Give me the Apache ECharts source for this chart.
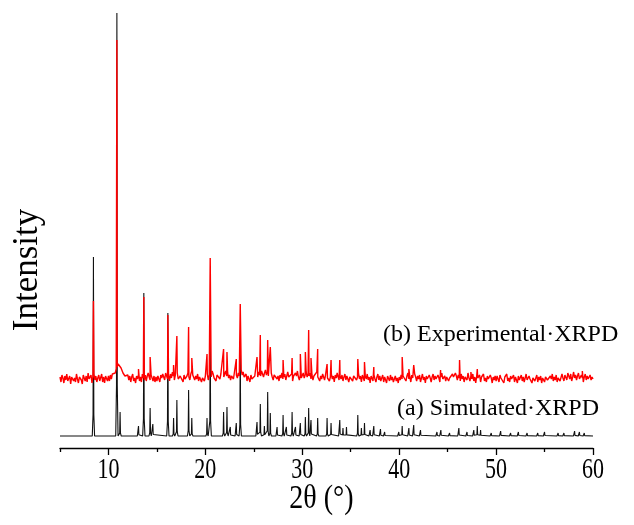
<!DOCTYPE html>
<html><head><meta charset="utf-8">
<script src="https://cdn.jsdelivr.net/npm/echarts@6/dist/echarts.min.js"></script>
<style>html,body{margin:0;padding:0;background:#fff}#c{width:634px;height:525px}</style>
</head><body><div id="c"></div>
<script>
// ---- data ----
// Simulated pattern: peak positions (2θ, °) and heights (a.u.)
const simPeakPos = [8.45,10.87,11.2,13.1,13.65,14.3,14.58,16.13,16.72,17.06,18.27,18.6,20.17,20.5,21.88,22.23,22.57,23.19,23.6,
  25.33,25.67,26.09,26.43,26.7,27.4,28.02,28.36,28.95,29.3,29.8,30.32,30.66,30.9,31.59,32.56,32.97,33.87,34.2,34.56,
  35.73,36.1,36.42,37.0,37.38,38.07,38.5,39.96,40.31,41.0,41.5,42.2,43.9,44.3,45.2,46.16,47.0,47.7,48.06,48.4,49.5,
  50.47,51.5,52.3,53.2,54.3,55.0,56.4,57.0,58.1,58.6,59.1];
const simPeakInt = [179,423,24,10,143,28,12,123,18,36,46,18,18,125,24,29,9,13,95,
  14,32,10,44,23,9,21,9,24,9,13,19,28,16,18,18,13,16,8,9,
  21,8,13,6,10,7,4,4,10,8,11,6,4,6,3,8,4,6,10,6,3,
  5,3,4,3,3,4,3,3,5,4,3];
// Experimental pattern: peak positions and heights above its own baseline
const expPeakPos = [8.45,10.87,13.1,13.65,14.3,16.13,16.72,17.06,18.27,18.6,20.17,20.5,21.88,22.23,23.19,23.6,
  25.33,25.67,26.43,26.7,28.02,28.95,29.8,30.32,30.66,30.9,31.59,32.56,32.97,33.87,35.73,36.42,37.38,
  40.31,41.0,41.5,44.27,46.23,47.4,48.06,58.9];
const expPeakInt = [78,339,10,82,22,64,14,43,52,21,25,121,30,27,20,75,
  22,44,39,32,19,21,25,27,49,21,30,15,19,19,20,17,12,
  22,10,14,9,19,7,10,8];
// Experimental background noise, sampled every 0.1° from 5° to 60°
const expNoiseStart = 5, expNoiseStep = 0.1;
const expNoise = [
  2,-3,4,1,-4,3,-1,5,-2,0,3,-5,2,4,-2,1,-3,5,0,-4,2,3,-1,-5,4,1,-2,3,-3,6,0,-2,4,-4,2,5,-1,3,-3,1,4,-2,0,5,-3,2,-4,3,1,-2,
  3,-2,4,0,5,3,7,6,10,12,15,13,16,11,9,6,5,3,4,1,4,-1,3,-3,2,5,-2,1,-4,3,0,4,-2,2,-3,5,1,-1,4,-2,3,6,2,-1,4,1,-2,3,-3,2,
  -2,3,0,-3,4,1,5,2,-1,6,3,0,4,-2,5,1,7,3,-1,4,2,6,0,-2,3,5,1,-3,4,0,-2,3,6,2,-1,5,8,4,2,-1,3,0,5,-2,2,4,-3,1,3,-2,
  3,1,5,-1,4,6,2,8,5,1,3,-2,4,2,6,0,5,3,7,2,4,8,3,6,1,4,-1,3,5,0,2,-2,4,1,6,3,5,9,4,7,2,0,5,-2,3,1,-3,4,0,2,
  -2,3,1,5,2,7,4,3,8,5,2,6,9,4,7,3,5,1,6,2,-1,4,2,5,0,3,-2,4,1,6,0,2,5,-1,3,7,2,4,0,5,-2,3,1,6,3,8,2,-1,4,1,
  3,6,1,4,7,2,5,3,6,0,4,-1,3,5,1,7,2,4,-2,3,0,5,2,-1,4,6,1,3,-2,2,5,0,3,-3,4,1,6,2,-1,3,0,4,-2,2,5,-1,3,1,-3,2,
  0,4,-2,3,1,5,-1,2,6,0,3,-3,4,1,-2,3,0,5,-1,2,-4,3,1,-2,4,0,-3,2,5,-1,3,-2,1,4,-3,2,0,-4,3,1,-2,4,-1,2,-3,0,3,-2,1,-4,
  2,-1,4,0,3,5,1,-2,3,6,0,2,-3,4,1,-1,5,2,-2,3,0,4,-3,1,5,-1,2,-4,3,0,-2,4,1,-3,2,5,-1,3,0,-2,4,1,-3,2,6,0,-1,3,-2,2,
  4,-2,1,3,-1,5,2,0,6,3,-1,4,1,-2,5,0,3,-3,2,4,-1,6,1,-2,3,0,5,-2,2,-4,3,1,-1,4,-3,2,0,5,-2,1,-3,3,0,-2,4,1,-4,2,-1,3,
  -2,3,0,-3,4,1,-1,3,-4,2,0,5,-2,1,-3,3,0,-1,4,-3,2,1,-4,3,-1,0,4,-2,2,-3,1,5,-1,-3,3,0,2,-4,1,3,-2,0,4,-3,2,-1,3,-4,1,2,
  -3,2,4,-1,1,-3,3,0,5,-2,2,-1,4,-3,1,3,-2,0,5,1,-2,4,2,-1,6,3,0,5,-2,2,7,1,4,-1,3,6,0,-2,4,1,-3,2,5,-1,3,0,-2,4,-1,2,
  0];
const simOffset = 12, expOffset = 69;   // vertical stacking offsets
const xMin = 5, xMax = 60;
const xMajorTicks = [10,20,30,40,50,60];
const xMinorTicks = [5,15,25,35,45,55];
const xTickLabels = ['10','20','30','40','50','60'];
const labelSim = '(a) Simulated·XRPD';
const labelExp = '(b) Experimental·XRPD';

// ---- build line data ----
const tplOff = [-0.12,-0.04,0,0.04,0.12], tplFrac = [0,0.12,1,0.12,0];
const simData = [[xMin, simOffset]];
simPeakPos.forEach((p,i)=>{
  tplOff.forEach((o,k)=>simData.push([p+o, simOffset + simPeakInt[i]*tplFrac[k]]));
});
simData.push([xMax, simOffset]);

const expData = expNoise.map((v,i)=>[+(expNoiseStart+i*expNoiseStep).toFixed(2), expOffset+v]);
expPeakPos.forEach((p,i)=>expData.push([p, expOffset+expPeakInt[i]]));
expData.sort((a,b)=>a[0]-b[0]);

const chart = echarts.init(document.getElementById('c'), null, {renderer:'canvas'});
const font = '"Liberation Serif","Times New Roman",serif';
chart.setOption({
  animation:false,
  backgroundColor:'#fff',
  grid:{left:60,right:41,top:13,bottom:77},
  xAxis:[{
    type:'value', min:xMin, max:xMax,
    axisLine:{show:true,lineStyle:{color:'#000',width:1.3}},
    axisTick:{show:true,customValues:xMajorTicks,length:7,lineStyle:{color:'#000',width:1.3}},
    axisLabel:{show:false},
    splitLine:{show:false}
  },{
    type:'value', min:xMin, max:xMax, position:'bottom', offset:0,
    axisLine:{show:false},
    axisTick:{show:true,customValues:xMinorTicks,length:4,lineStyle:{color:'#000',width:1.3}},
    axisLabel:{show:false}, splitLine:{show:false}
  }],
  yAxis:{type:'value',min:0,max:435,show:false},
  series:[
    {type:'line',name:'Simulated',data:simData,showSymbol:false,symbol:'none',
     lineStyle:{color:'#111',width:1.1},z:2},
    {type:'line',name:'Experimental',data:expData,showSymbol:false,symbol:'none',
     lineStyle:{color:'#ff0000',width:1.4},z:3}
  ]
});
// tick labels and axis title as (vertically stretched) text, placed through the axis scale
const axisY = chart.convertToPixel({yAxisIndex:0}, 0);
const g = [];
xMajorTicks.forEach((v,i)=>{
  const px = chart.convertToPixel({xAxisIndex:0}, v);
  g.push({type:'text',x:px,y:axisY+22,scaleY:1.35,
    style:{text:xTickLabels[i],font:'22px '+font,fill:'#000',textAlign:'center',textVerticalAlign:'middle'}});
});
const midX = (chart.convertToPixel({xAxisIndex:0}, xMin)+chart.convertToPixel({xAxisIndex:0}, xMax))/2;
g.push({type:'text',x:midX-5,y:axisY+51,scaleY:1.2,
  style:{text:'2θ (°)',font:'28px '+font,fill:'#000',textAlign:'center',textVerticalAlign:'middle'}});
g.push({type:'text',x:28,y:270,rotation:Math.PI/2,
  style:{text:'Intensity',font:'35px '+font,fill:'#000',textAlign:'center',textVerticalAlign:'middle'}});
g.push({type:'text',x:383,y:335,
  style:{text:labelExp,font:'24px '+font,fill:'#000',textAlign:'left',textVerticalAlign:'middle'}});
g.push({type:'text',x:397,y:409,
  style:{text:labelSim,font:'24px '+font,fill:'#000',textAlign:'left',textVerticalAlign:'middle'}});
chart.setOption({graphic:g});
</script></body></html>
